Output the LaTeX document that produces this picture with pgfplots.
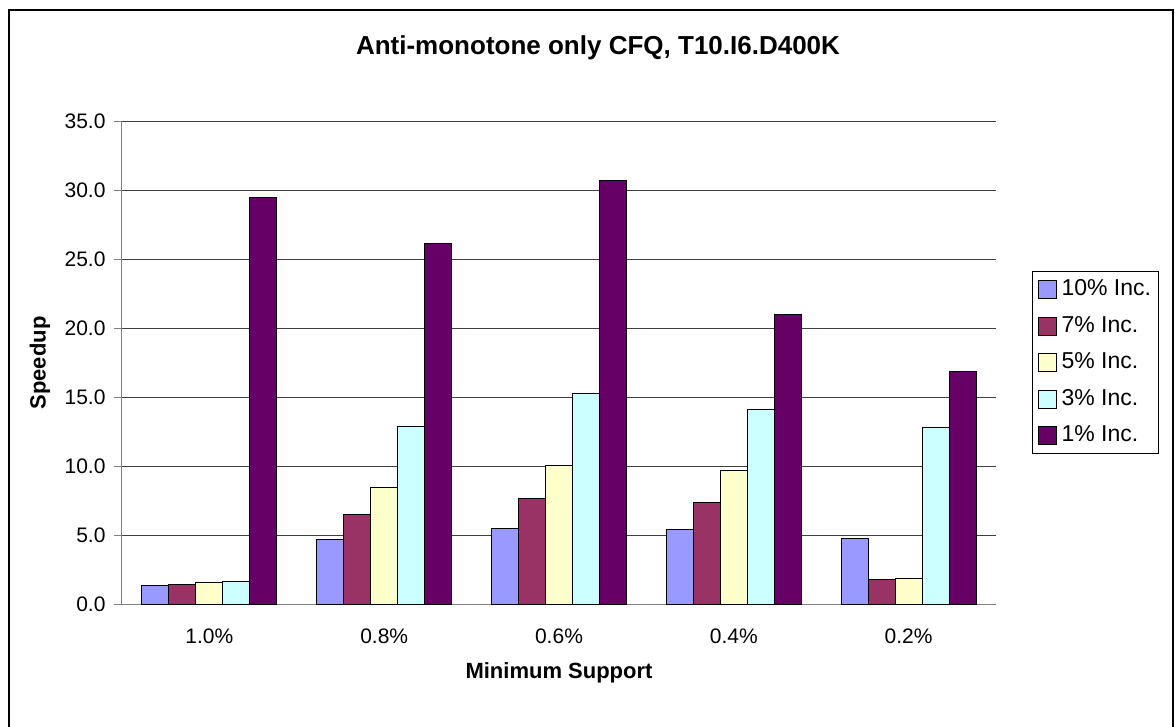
\documentclass[border=0pt]{standalone}
\usepackage{pgfplots}
\pgfplotsset{compat=1.18}
\usepackage{fontspec}
\setmainfont{Liberation Sans}

\definecolor{incA}{HTML}{9999FF}
\definecolor{incB}{HTML}{993366}
\definecolor{incC}{HTML}{FFFFCC}
\definecolor{incD}{HTML}{CCFFFF}
\definecolor{incE}{HTML}{660066}
\definecolor{gridgray}{HTML}{808080}

\begin{document}
\begin{tikzpicture}[x=1pt,y=1pt]
\useasboundingbox (0,0) rectangle (1176,726);
% outer chart frame
\draw[line width=2pt] (9,-4) rectangle (1173,716);
\node[font=\bfseries\fontsize{26}{30}\selectfont] at (598,678) {Anti-monotone only CFQ, T10.I6.D400K};

\begin{axis}[
  at={(122pt,121.7pt)}, anchor=south west,
  scale only axis, width=874pt, height=482.6pt,
  ybar=0pt, bar width=27pt,
  xmin=-0.5, xmax=4.5, ymin=0, ymax=35,
  axis x line*=bottom, axis y line*=left,
  axis line style={draw=gridgray, line width=1pt},
  xtick={0,1,2,3,4},
  xticklabels={1.0\%,0.8\%,0.6\%,0.4\%,0.2\%},
  x tick style={draw=none},
  extra x ticks={-0.5,0.5,1.5,2.5,3.5,4.5},
  extra x tick labels={},
  extra x tick style={major tick length=8pt, tick style={draw=gridgray, line width=1pt}, grid=none},
  ytick={0,5,...,35},
  y tick style={draw=gridgray, line width=1pt},
  major tick length=8pt,
  tick align=outside,
  ymajorgrids, major grid style={draw=black!75, line width=0.9pt},
  ticklabel style={font=\fontsize{21}{25}\selectfont},
  yticklabel style={xshift=-5pt, /pgf/number format/.cd, fixed, fixed zerofill, precision=1, assume math mode=true},
  xticklabel style={anchor=center, yshift=-24pt},
  xlabel={Minimum Support}, ylabel={Speedup},
  xlabel style={font=\bfseries\fontsize{22}{26}\selectfont, at={(axis description cs:0.5,-0.1424)}, anchor=center},
  ylabel style={font=\bfseries\fontsize{22}{26}\selectfont, at={(axis description cs:-0.0938,0.5)}, anchor=center, rotate=0},
  legend style={at={(1.0412,0.6906)}, anchor=north west, draw=black, line width=1pt,
    font=\fontsize{23}{27}\selectfont, inner sep=5pt, row sep=10.6pt,
    nodes={inner sep=2pt, text height=17pt, text depth=5pt, anchor=west},
    /tikz/every odd column/.append style={column sep=3pt}},
  legend cell align=left,
  legend image code/.code={\draw[#1, draw=black, line width=1pt] (0pt,-9pt) rectangle (18pt,9pt);},
  every axis plot/.append style={draw=black, line width=1pt},
]
\addplot[fill=incA] coordinates {(0,1.35) (1,4.7) (2,5.5) (3,5.4) (4,4.8)};
\addplot[fill=incB] coordinates {(0,1.45) (1,6.5) (2,7.7) (3,7.4) (4,1.8)};
\addplot[fill=incC] coordinates {(0,1.55) (1,8.5) (2,10.1) (3,9.7) (4,1.9)};
\addplot[fill=incD] coordinates {(0,1.65) (1,12.9) (2,15.3) (3,14.1) (4,12.8)};
\addplot[fill=incE] coordinates {(0,29.5) (1,26.2) (2,30.7) (3,21.0) (4,16.9)};
\legend{10\% Inc.,7\% Inc.,5\% Inc.,3\% Inc.,1\% Inc.}
\end{axis}
\end{tikzpicture}
\end{document}
